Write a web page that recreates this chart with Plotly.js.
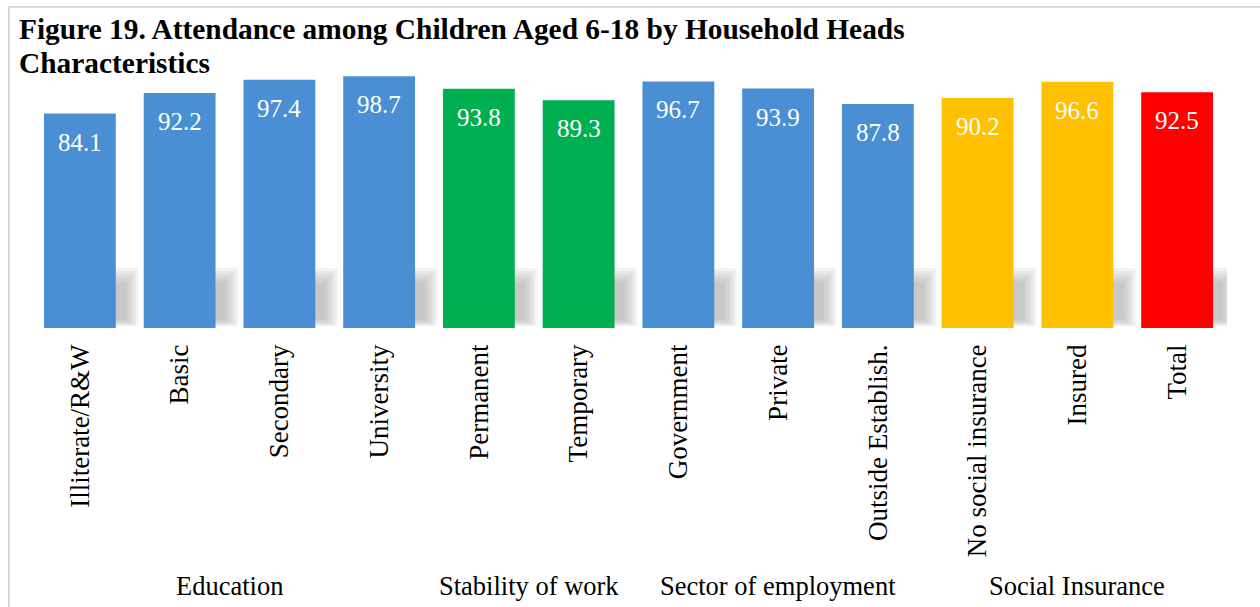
<!DOCTYPE html>
<html>
<head>
<meta charset="utf-8">
<script src="https://cdn.plot.ly/plotly-3.0.1.min.js"></script>
<style>
html,body{margin:0;padding:0;background:#fff;}
#wrap{position:relative;width:1260px;height:607px;overflow:hidden;}
#chart{position:absolute;left:0;top:0;width:1260px;height:607px;}
#frame{position:absolute;left:8px;top:6px;width:1262px;height:610px;border-top:2px solid #d9d9d9;border-left:2px solid #d9d9d9;pointer-events:none;}
</style>
</head>
<body>
<div id="wrap"><div id="chart"></div><div id="frame"></div></div>
<script>
const categories = ["Illiterate/R&W","Basic","Secondary","University","Permanent","Temporary","Government","Private","Outside Establish.","No social insurance","Insured","Total"];
const values = [84.1, 92.2, 97.4, 98.7, 93.8, 89.3, 96.7, 93.9, 87.8, 90.2, 96.6, 92.5];
const barColors = ["#4a8fd3","#4a8fd3","#4a8fd3","#4a8fd3","#00b050","#00b050","#4a8fd3","#4a8fd3","#4a8fd3","#ffc000","#ffc000","#ff0000"];
const groups = ["Education","Stability of work","Sector of employment","Social Insurance"];
const groupSpans = [[0,3],[4,5],[6,8],[9,11]];
const titleLines = ["Figure 19. Attendance among Children Aged 6-18 by Household Heads","Characteristics"];

const FONT = "Liberation Serif, Times New Roman, serif";

const trace = {
  type: "bar",
  x: categories,
  y: values,
  marker: {color: barColors, line: {width: 0}},
  hoverinfo: "x+y",
  showlegend: false
};

// plot area geometry (px) used for placing paper-referenced texts
const PLOT_TOP = 72.5, PLOT_H = 256, PLOT_L = 30, PLOT_W = 1197;
const py = px => (PLOT_TOP + PLOT_H - px) / PLOT_H;
const pxx = px => (px - PLOT_L) / PLOT_W;

const shapes = [];
// soft shadow behind each bar
categories.forEach((c, i) => {
  for (let k = 0; k < 6; k++) {
    shapes.push({type: "rect", layer: "below", xref: "x", yref: "y",
      x0: i - 0.36 + 0.14 + 0.01 * k, x1: i + 0.36 + 0.1 + 0.025 * k,
      y0: 3.2 - 0.5 * k, y1: 18 + 1.1 * k,
      fillcolor: "#999999", opacity: 0.12, line: {width: 0}});
  }
});

const annotations = [];
values.forEach((v, i) => {
  annotations.push({x: i, y: v, xref: "x", yref: "y", text: v.toFixed(1),
    showarrow: false, yanchor: "top", yshift: -13,
    font: {family: FONT, size: 25, color: "#ffffff"}});
});
groups.forEach((g, k) => {
  annotations.push({x: (groupSpans[k][0] + groupSpans[k][1]) / 2, y: py(588),
    xref: "x", yref: "paper", text: g, showarrow: false, yanchor: "middle",
    font: {family: FONT, size: 26.5, color: "#000000"}});
});
titleLines.forEach((t, k) => {
  annotations.push({x: pxx(17), y: py(10 + 34 * k), xref: "paper", yref: "paper",
    text: "<b>" + t + "</b>", showarrow: false, xanchor: "left", yanchor: "top", align: "left",
    font: {family: FONT, size: 29.4, color: "#000000"}});
});

const layout = {
  width: 1260, height: 607,
  margin: {l: 30, r: 33, t: 72.5, b: 278.5},
  paper_bgcolor: "rgba(0,0,0,0)",
  plot_bgcolor: "rgba(0,0,0,0)",
  bargap: 0.28,
  xaxis: {type: "category", range: [-0.5, 11.5], tickangle: -90, ticks: "",
    showline: false, showgrid: false, zeroline: false, ticklabelstandoff: 10,
    tickfont: {family: FONT, size: 27, color: "#000000"}},
  yaxis: {range: [0, 100], visible: false, showgrid: false, zeroline: false},
  shapes: shapes,
  annotations: annotations,
  font: {family: FONT}
};

Plotly.newPlot("chart", [trace], layout, {displayModeBar: false, staticPlot: true});
</script>
</body>
</html>
